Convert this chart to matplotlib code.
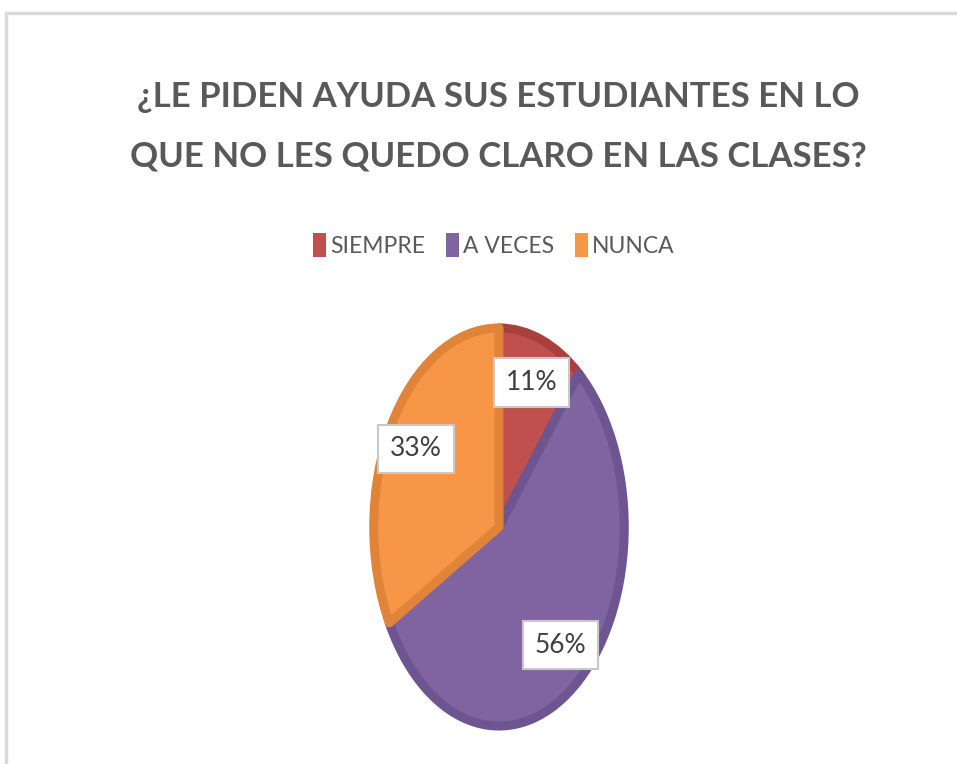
import matplotlib.pyplot as plt
from matplotlib.patches import Patch, Rectangle

categories = ['SIEMPRE', 'A VECES', 'NUNCA']
values = [11, 56, 33]
colors = ['#C0504D', '#8064A2', '#F79646']
edges = ['#A9403D', '#6E5592', '#E0843A']
title = '¿LE PIDEN AYUDA SUS ESTUDIANTES EN LO\nQUE NO LES QUEDO CLARO EN LAS CLASES?'

plt.rcParams['font.family'] = ['Lato', 'DejaVu Sans']

fig = plt.figure(figsize=(9.57, 7.64), dpi=100)

# chart frame
fig.patches.append(Rectangle((6 / 957, -0.05), 1.0, 1 - 13 / 764 + 0.05,
                             transform=fig.transFigure, fill=False,
                             edgecolor='#d9d9d9', linewidth=2.5))

fig.text(498 / 957, 1 - 127 / 764, title, ha='center', va='center',
         fontsize=25, fontweight='bold', color='#595959', linespacing=2.05)

handles = [Patch(facecolor=c, edgecolor='none') for c in colors]
fig.legend(handles, categories, loc='center', bbox_to_anchor=(494 / 957, 1 - 245 / 764),
           ncol=3, frameon=False, fontsize=16.5, handlelength=0.55, handleheight=1.25,
           handletextpad=0.2, columnspacing=0.9, labelcolor='#595959')

ax = fig.add_axes([370 / 957, 1 - 732 / 764, 258 / 957, 410 / 764])
wedges, texts, autotexts = ax.pie(
    values, colors=colors, startangle=90, counterclock=False,
    autopct='%1.0f%%', pctdistance=0.77,
    wedgeprops=dict(linewidth=6.5),
    textprops=dict(fontsize=19, color='#404040'))
for w, e in zip(wedges, edges):
    w.set_edgecolor(e)
    w.set_joinstyle('round')
for t in autotexts:
    t.set_bbox(dict(boxstyle='square,pad=0.45', facecolor='white', edgecolor='#c8c8c8', linewidth=1.5))
ax.set_aspect('auto')
ax.set_xlim(-1.03, 1.03)
ax.set_ylim(-1.03, 1.03)
ax.axis('off')

fig.savefig('out.png', dpi=100)
